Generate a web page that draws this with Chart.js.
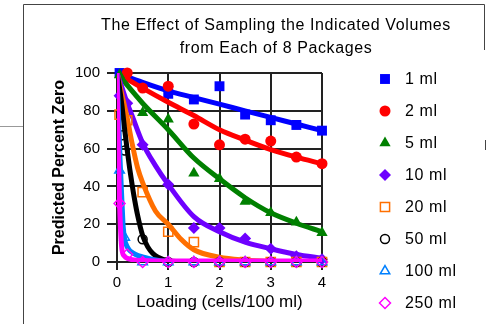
<!DOCTYPE html>
<html>
<head>
<meta charset="utf-8">
<script src="https://cdn.jsdelivr.net/npm/chart.js@4.4.1/dist/chart.umd.min.js"></script>
<style>
  html, body { margin: 0; padding: 0; background: #fff; }
  #wrap { position: relative; width: 488px; height: 324px; }
</style>
</head>
<body>
<div id="wrap"><canvas id="chart"></canvas></div>
<script>
const TITLE = ["The Effect of Sampling the Indicated Volumes", "from Each of 8 Packages"];
const X_TITLE = "Loading (cells/100 ml)";
const Y_TITLE = "Predicted Percent Zero";
const VOLUMES = ["1 ml", "2 ml", "5 ml", "10 ml", "20 ml", "50 ml", "100 ml", "250 ml"];
const X_TICKS = [0, 1, 2, 3, 4];
const Y_TICKS = [0, 20, 40, 60, 80, 100];

// sampled results (markers), null = no marker at that loading
const POINT_X = [0.05, 0.1, 0.15, 0.2, 0.5, 1, 1.5, 2, 2.5, 3, 3.5, 4];
const PTS_1ML = [100, null, null, null, null, 89, 86, 93, 78, 75, 72.5, 69.5];
const PTS_2ML = [null, null, null, 100, 92, 93, 73, 62, 65, 64, 55.5, 52];
const PTS_5ML = [99, null, null, null, 79, 75.5, 47, 44, 32, 26, 21, 15.5];
const PTS_10ML = [88, null, null, 84, 62, 41, 18, 18, 12.5, 7, 3, 1.5];
const PTS_20ML = [78, null, null, 75, 37, 16, 10.5, 0, 0, 0, 0, 0];
const PTS_50ML = [null, 67, 59, null, 12, 0, 0, 0, 0, 0, 0, 0];
const PTS_100ML = [48.5, null, 13, null, 0, 0, 0, 0, 0, 0, 0, 0];
const PTS_250ML = [31, null, null, 4, 0, 0, 0, 0, 0, 0, 0, 0];

// predicted curves
const CURVE_X = [0, 0.5, 1, 1.5, 2, 2.5, 3, 3.5, 4];
const CURVE_1ML = [100, 95, 90.5, 87, 83.5, 80, 76.5, 73, 69.5];
const CURVE_2ML = [100, 92, 84.5, 77.5, 70, 64.5, 59.5, 55.5, 52];
const CURVE_5ML = [100, 84, 70, 55, 44, 34, 26, 20.5, 16];
const CURVE_X_10ML = [0, 0.1, 0.2, 0.3, 0.5, 0.75, 1, 1.5, 2, 2.5, 3, 3.5, 4];
const CURVE_10ML = [100, 92, 84, 77, 63, 51, 41, 24, 16, 10.5, 7, 4, 2];
const CURVE_X_20ML = [0, 0.1, 0.2, 0.3, 0.4, 0.5, 0.75, 1, 1.25, 1.5, 2, 2.5, 3, 4];
const CURVE_20ML = [100, 88, 76, 62, 50, 42, 27, 20, 12, 6.5, 2.5, 1, 0.3, 0];
const CURVE_X_50ML = [0, 0.05, 0.1, 0.15, 0.2, 0.25, 0.3, 0.35, 0.4, 0.5, 0.6, 0.7, 0.8, 1, 1.5];
const CURVE_50ML = [100, 92, 82, 70, 59, 49, 40, 32, 25, 14, 8, 4.5, 2.5, 0.7, 0];
const CURVE_X_100ML = [0, 0.03, 0.06, 0.1, 0.12, 0.15, 0.2, 0.25, 0.3, 0.4, 0.5, 0.7, 1, 1.5];
const CURVE_100ML = [100, 78, 54, 30, 19, 12, 8, 6, 5, 3.5, 2.7, 1.3, 0.3, 0];
const CURVE_X_250ML = [0, 0.02, 0.05, 0.08, 0.1, 0.15, 0.2, 0.3, 0.5, 1, 4];
const CURVE_250ML = [100, 65, 31, 12, 6, 3, 2, 1.2, 0.8, 0.5, 0.5];

// styling
const COLORS = ["#0000ff", "#ff0000", "#008000", "#6e00ff", "#ff6f00", "#000000", "#0080ff", "#ff00ff"];
const SHAPES = ["rect", "circle", "triangle", "rectRot", "rect", "circle", "triangle", "rectRot"];
const FILLED = [true, true, true, true, false, false, false, false];
const RADII = [7, 5.5, 6.5, 6, 6.5, 4.5, 5.5, 5.5];
const FONT = "'Liberation Sans', Arial, sans-serif";

const points = [PTS_1ML, PTS_2ML, PTS_5ML, PTS_10ML, PTS_20ML, PTS_50ML, PTS_100ML, PTS_250ML];
const curves = [
  [CURVE_X, CURVE_1ML], [CURVE_X, CURVE_2ML], [CURVE_X, CURVE_5ML],
  [CURVE_X_10ML, CURVE_10ML], [CURVE_X_20ML, CURVE_20ML], [CURVE_X_50ML, CURVE_50ML],
  [CURVE_X_100ML, CURVE_100ML], [CURVE_X_250ML, CURVE_250ML],
];

function toXY(xs, ys) {
  return xs.map((x, i) => ({ x: x, y: ys[i] })).filter(p => p.y !== null);
}

const datasets = [];
VOLUMES.forEach((label, i) => {
  datasets.push({
    type: "line",
    label: label + " fit",
    data: toXY(curves[i][0], curves[i][1]),
    borderColor: COLORS[i],
    borderWidth: 5,
    pointRadius: 0,
    cubicInterpolationMode: "monotone",
    fill: false,
    order: 100 - 2 * i,
  });
  datasets.push({
    type: "scatter",
    label: label,
    data: toXY(POINT_X, points[i]),
    pointStyle: SHAPES[i],
    pointRadius: RADII[i],
    backgroundColor: FILLED[i] ? COLORS[i] : "rgba(0,0,0,0)",
    borderColor: COLORS[i],
    borderWidth: FILLED[i] ? 0 : 1.5,
    clip: false,
    order: 99 - 2 * i,
  });
});

// frame, title and legend are drawn at fixed places like the original figure
const decor = {
  id: "decor",
  beforeDraw(chart) {
    const ctx = chart.ctx;
    ctx.save();
    ctx.fillStyle = "#fff";
    ctx.fillRect(0, 0, chart.width, chart.height);
    ctx.strokeStyle = "#444";
    ctx.lineWidth = 1;
    ctx.beginPath();
    ctx.moveTo(23.5, 324); ctx.lineTo(23.5, 4.5); ctx.lineTo(484.5, 4.5); ctx.lineTo(484.5, 50);
    ctx.moveTo(485.5, 140); ctx.lineTo(485.5, 150);
    ctx.stroke();
    ctx.strokeStyle = "#999";
    ctx.beginPath();
    ctx.moveTo(0, 126.5); ctx.lineTo(23, 126.5);
    ctx.stroke();
    ctx.restore();
  },
  afterDraw(chart) {
    const ctx = chart.ctx;
    ctx.save();
    ctx.letterSpacing = "0.6px";
    ctx.fillStyle = "#000";
    ctx.font = "16px " + FONT;
    ctx.textAlign = "center";
    ctx.textBaseline = "middle";
    ctx.fillText(TITLE[0], 276, 26);
    ctx.fillText(TITLE[1], 276, 49);

    ctx.textAlign = "left";
    VOLUMES.forEach((label, i) => {
      const y = 79 + i * 32;
      ctx.fillStyle = FILLED[i] ? COLORS[i] : "rgba(0,0,0,0)";
      ctx.strokeStyle = COLORS[i];
      ctx.lineWidth = FILLED[i] ? 0 : 1.5;
      Chart.helpers.drawPoint(ctx, {
        pointStyle: SHAPES[i],
        radius: RADII[i],
        rotation: 0,
        borderWidth: FILLED[i] ? 0 : 1.5,
      }, 385, y);
      ctx.fillStyle = "#000";
      ctx.fillText(label, 405, y + 1);
    });
    ctx.restore();
  },
};

new Chart(document.getElementById("chart"), {
  type: "scatter",
  data: { datasets: datasets },
  plugins: [decor],
  options: {
    responsive: true,
    maintainAspectRatio: false,
    animation: false,
    events: [],
    layout: { padding: { left: 50, right: 166, top: 73, bottom: 11 } },
    plugins: {
      legend: { display: false },
      tooltip: { enabled: false },
      title: { display: false },
    },
    scales: {
      x: {
        type: "linear",
        min: 0,
        max: 4,
        afterBuildTicks: s => { s.ticks = X_TICKS.map(v => ({ value: v })); },
        afterFit: s => { s.height = 51; },
        grid: { color: "#222", lineWidth: 2, tickLength: 8 },
        border: { color: "#222", width: 2 },
        ticks: { color: "#000", font: { size: 15, family: FONT }, padding: 4, maxRotation: 0 },
        title: { display: true, text: X_TITLE, color: "#000", font: { size: 17, family: FONT }, padding: 0 },
      },
      y: {
        type: "linear",
        min: 0,
        max: 100,
        afterBuildTicks: s => { s.ticks = Y_TICKS.map(v => ({ value: v })); },
        afterFit: s => { s.width = 67; },
        grid: { color: "#222", lineWidth: 2, tickLength: 10 },
        border: { color: "#222", width: 2 },
        ticks: { color: "#000", font: { size: 15, family: FONT }, padding: 7 },
        title: { display: true, text: Y_TITLE, color: "#000", font: { size: 16, family: FONT, weight: "bold" }, padding: 0 },
      },
    },
  },
});
</script>
</body>
</html>
